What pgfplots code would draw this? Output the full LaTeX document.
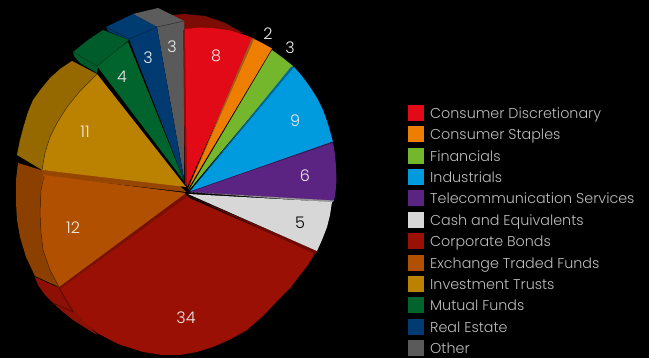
\documentclass[border=0pt]{standalone}
\usepackage{pgfplots}
\pgfplotsset{compat=1.18}
\usepackage{fontspec}
\setmainfont{Poppins}[UprightFont=* Light]
\definecolor{lbl}{RGB}{238,238,238}
\definecolor{lgd}{RGB}{190,190,190}
\newcommand{\face}[2]{\addplot[fill={#1},draw=none] coordinates {#2};}
\newcommand{\edge}[2]{\addplot[draw={#1},line width=0.5pt] coordinates {#2};}
\begin{document}
\begin{tikzpicture}
\begin{axis}[
  scale only axis, width=649pt, height=358pt,
  xmin=0, xmax=649, ymin=0, ymax=358, y dir=reverse,
  hide axis, clip=true,
]
% page background
\face{black}{(0,0)(649,0)(649,358)(0,358)}

% rear wall of the large bond slice, seen behind the red slice
\face{rgb,255:red,125;green,12;blue,4}{(170,16)(173,15)(185,14)(205,16)(225,23)(243,33)(186,40)}

% outer walls of the raised slices
\face{rgb,255:red,92;green,92;blue,92}{(133,14)(158,8)(184,21)(184,40)(157,27)}
\face{rgb,255:red,0;green,60;blue,112}{(106,27)(133,14)(157,27)(129,40)(108,31)}
\face{rgb,255:red,0;green,92;blue,42}{(73,52)(88,40)(103,30)(129,40)(98,66)(97,73)(80,63)(74,56)}
\face{rgb,255:red,150;green,104;blue,0}{(72,61)(97,74)(80,91)(67,107)(57,123)(50,137)(45,153)(42,170)(17,155)(20,140)(24,125)(28,112)(33,100)(41,89)(50,78)(60,69)}
\face{rgb,255:red,140;green,64;blue,0}{(18,163)(44,171)(44,178)(41,190)(40,213)(41,232)(43,250)(50,270)(59,287)(35,276)(26,257)(20,237)(17,220)(16,203)(16,180)}
\face{rgb,255:red,140;green,16;blue,4}{(35,277)(59,288)(97,335)(84,327)(73,320)(63,312)(53,303)(45,295)(38,285)}

% thin inner walls between the slices
\face{rgb,255:red,150;green,70;blue,0}{(42,170)(177,183)(186,192)(43,176)}
\face{rgb,255:red,120;green,16;blue,2}{(56,287)(184,193)(190,198)(62,290)}

% slice faces
\face{rgb,255:red,90;green,90;blue,90}{(157,27)(184,21)(184,178)}
\face{rgb,255:red,0;green,58;blue,112}{(129,39)(157,27)(184,180)}
\face{rgb,255:red,0;green,100;blue,44}{(97,66)(112,53)(128,42)(184,181)}
\face{rgb,255:red,186;green,130;blue,0}{(97,74)(80,91)(67,107)(57,123)(50,137)(45,153)(42,170)(186,187)}
\face{rgb,255:red,176;green,80;blue,0}{(43,175)(41,190)(40,213)(41,232)(43,250)(50,270)(59,287)(186,193)}

\face{rgb,255:red,154;green,16;blue,4}{(187,197)(315,253)(308,265)(300,275)(291,287)(280,298)(264,315)(247,330)(231,339)(213,347)(197,352)(180,355)(162,355)(143,352)(118,344)(97,333)(85,322)(75,310)(66,298)(60,289)}
\face{rgb,255:red,110;green,10;blue,4}{(187,195)(318,251)(315,254)}

\face{rgb,255:red,150;green,10;blue,12}{(183,30)(186,29)(188,186)(185,184)}
\face{rgb,255:red,226;green,10;blue,22}{(185,29)(200,27.5)(215,28.3)(230,30.5)(245,35)(254,38.5)(187,187)}
\face{rgb,255:red,150;green,96;blue,30}{(252,38)(254,39)(188,189)}
\face{rgb,255:red,238;green,126;blue,0}{(254,39)(263,43.5)(272,48.5)(188,189)}
\face{rgb,255:red,116;green,182;blue,44}{(272,50)(283,58)(293,66)(189,190)}
\face{rgb,255:red,0;green,104;blue,154}{(291,67)(294,67)(190,191)}
\face{rgb,255:red,0;green,155;blue,222}{(294,67)(302,76)(310,87)(317,98)(323,110)(328,124)(333,142)(190,191.5)}
\face{rgb,255:red,92;green,36;blue,130}{(333,142)(335,155)(336,167)(336.5,180)(335.5,192)(334,201)(190,192)}
\face{rgb,255:red,60;green,26;blue,86}{(190,191.5)(333,141.5)(333,143)}
\face{rgb,255:red,150;green,150;blue,150}{(188,192)(334,200.5)(332,202.5)}
\face{rgb,255:red,215;green,215;blue,215}{(188,194)(332,202)(330,215)(327,227)(322,240)(317,251)}

% creases along the walls
\edge{rgb,255:red,70;green,50;blue,10}{(97,74)(80,91)(67,107)(57,123)(50,137)(45,153)(42,170)}
\edge{rgb,255:red,80;green,35;blue,0}{(44,176)(41,190)(40,213)(41,232)(43,250)(50,270)(59,287)}
\edge{rgb,255:red,70;green,8;blue,2}{(59,288)(73,312)}
\edge{rgb,255:red,70;green,8;blue,2}{(53,303)(73,312)}
\edge{rgb,255:red,0;green,55;blue,25}{(73,52)(97,66)(129,40)}
\edge{rgb,255:red,0;green,35;blue,70}{(106,27)(129,39)(157,27)}
\edge{rgb,255:red,55;green,45;blue,45}{(157,27)(184,21)}

% legend swatches
\face{rgb,255:red,226;green,10;blue,22}{(408,105)(424,105)(424,121)(408,121)}
\face{rgb,255:red,238;green,126;blue,0}{(408,126)(424,126)(424,142)(408,142)}
\face{rgb,255:red,116;green,182;blue,44}{(408,148)(424,148)(424,164)(408,164)}
\face{rgb,255:red,0;green,155;blue,222}{(408,169)(424,169)(424,185)(408,185)}
\face{rgb,255:red,92;green,36;blue,130}{(408,190)(424,190)(424,206)(408,206)}
\face{rgb,255:red,215;green,215;blue,215}{(408,212)(424,212)(424,228)(408,228)}
\face{rgb,255:red,154;green,16;blue,4}{(408,233)(424,233)(424,249)(408,249)}
\face{rgb,255:red,176;green,80;blue,0}{(408,255)(424,255)(424,271)(408,271)}
\face{rgb,255:red,186;green,130;blue,0}{(408,276)(424,276)(424,292)(408,292)}
\face{rgb,255:red,0;green,100;blue,44}{(408,297)(424,297)(424,313)(408,313)}
\face{rgb,255:red,0;green,58;blue,112}{(408,319)(424,319)(424,335)(408,335)}
\face{rgb,255:red,90;green,90;blue,90}{(408,340)(424,340)(424,356)(408,356)}

% legend entries
\tikzset{lg/.style={anchor=base west,text=lgd,font=\fontsize{14.3}{14.3}\selectfont,inner sep=0pt}}
\node[lg] at (axis cs:430,118.5) {Consumer Discretionary};
\node[lg] at (axis cs:430,139.5) {Consumer Staples};
\node[lg] at (axis cs:430,161.5) {Financials};
\node[lg] at (axis cs:430,182.5) {Industrials};
\node[lg] at (axis cs:430,203.5) {Telecommunication Services};
\node[lg] at (axis cs:430,225.5) {Cash and Equivalents};
\node[lg] at (axis cs:430,246.5) {Corporate Bonds};
\node[lg] at (axis cs:430,268.5) {Exchange Traded Funds};
\node[lg] at (axis cs:430,289.5) {Investment Trusts};
\node[lg] at (axis cs:430,310.5) {Mutual Funds};
\node[lg] at (axis cs:430,332.5) {Real Estate};
\node[lg] at (axis cs:430,353.5) {Other};

% slice values
\tikzset{vl/.style={text=lbl,font=\fontsize{16}{16}\selectfont,inner sep=0pt}}
\node[vl] at (axis cs:216,56) {8};
\node[vl] at (axis cs:268,34) {2};
\node[vl] at (axis cs:290,48) {3};
\node[vl] at (axis cs:295,121) {9};
\node[vl] at (axis cs:305,176) {6};
\node[vl,text=black] at (axis cs:300,223) {5};
\node[vl] at (axis cs:186,318) {34};
\node[vl] at (axis cs:73,228) {12};
\node[vl] at (axis cs:85,132) {11};
\node[vl] at (axis cs:122,77) {4};
\node[vl] at (axis cs:148,58) {3};
\node[vl] at (axis cs:172,47) {3};
\end{axis}
\end{tikzpicture}
\end{document}
